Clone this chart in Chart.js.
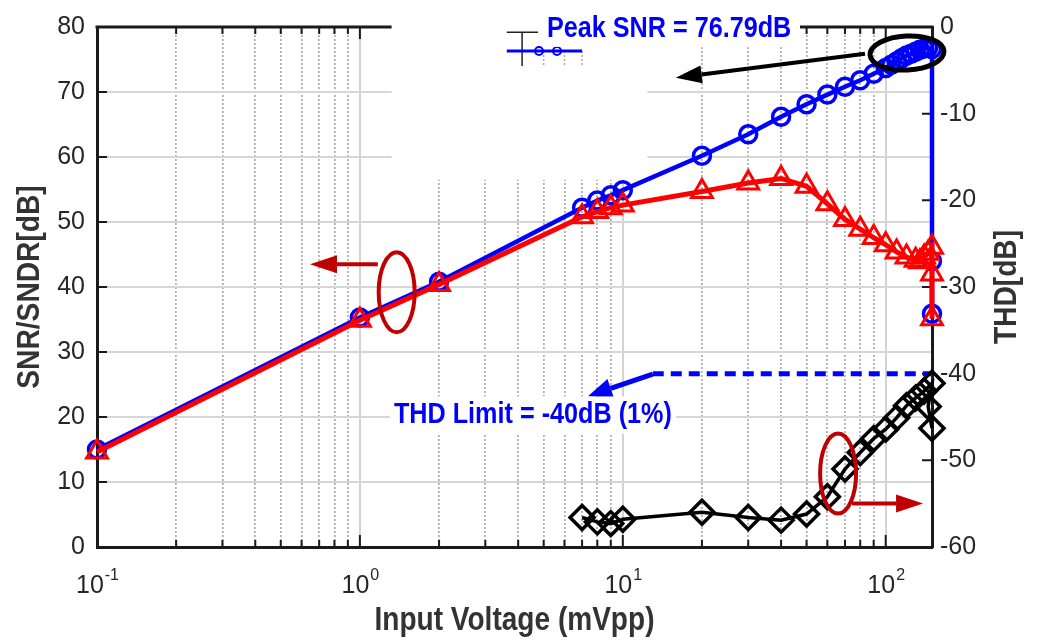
<!DOCTYPE html>
<html>
<head>
<meta charset="utf-8">
<script src="https://cdn.jsdelivr.net/npm/chart.js@4.4.0/dist/chart.umd.min.js"></script>
<style>
  html, body { margin: 0; padding: 0; background: #fff; }
  #wrap { width: 1037px; height: 641px; }
</style>
</head>
<body>
<div id="wrap"><canvas id="snrChart" width="1037" height="641"></canvas></div>
<script>
// Input amplitude (mVpp) and measured values
const snrInput  = [0.1, 1, 2, 7, 8, 9, 10, 20, 30, 40, 50, 60, 70, 80, 90, 100, 105, 110, 115, 120, 125, 130, 135, 140, 145, 150, 150, 150];
const snrValues = [15.0, 35.3, 40.8, 52.2, 53.3, 54.1, 54.9, 60.2, 63.5, 66.2, 68.1, 69.6, 70.8, 71.8, 72.8, 73.7, 74.2, 74.7, 75.2, 75.6, 75.9, 76.2, 76.5, 76.7, 76.79, 76.6, 44.0, 35.9];

const sndrInput  = [0.1, 1, 2, 7, 8, 9, 10, 20, 30, 40, 50, 60, 70, 80, 90, 100, 110, 120, 130, 135, 140, 145, 150, 150, 150];
const sndrValues = [14.6, 34.9, 40.4, 50.8, 51.6, 52.2, 52.6, 54.7, 56.0, 56.7, 55.5, 52.8, 50.4, 48.9, 47.6, 46.5, 45.4, 44.6, 44.1, 43.9, 44.6, 45.2, 46.1, 42.0, 35.1];

const thdInput  = [7, 8, 9, 10, 20, 30, 40, 50, 60, 70, 80, 90, 100, 110, 120, 130, 140, 150, 145, 150];
const thdValues = [-56.6, -57.1, -57.3, -56.8, -56.0, -56.6, -56.9, -56.2, -54.2, -51.0, -49.1, -47.5, -46.4, -45.1, -43.7, -42.8, -42.0, -41.1, -43.8, -46.3];

const thdLimitInput  = [13.0, 150];
const thdLimitValues = [-40, -40];

// axis ticks
const xDecades = [0.1, 1, 10, 100];
const xDecadeExp = ['-1', '0', '1', '2'];
const xMinorSteps = [2, 3, 4, 5, 6, 7, 8, 9];
const xMin = 0.1, xMax = 150;

const axisColor = '#1a1a1a';
const textColor = '#262626';
const titleColor = '#333';
const tickFont = '"Liberation Sans", Arial, sans-serif';
const labelFont = '"Liberation Sans", Arial, sans-serif';

const xTickValues = [];
xDecades.forEach(d => {
  xTickValues.push({ value: d, major: true });
  xMinorSteps.forEach(m => {
    const v = +(d * m).toPrecision(6);
    if (v < xMax) xTickValues.push({ value: v, major: false });
  });
});

const toPoints = (xs, ys) => xs.map((v, i) => ({ x: v, y: ys[i] }));

// annotation anchors, in data units (left axis)
const peakNote = { x: 15.0, y: 79.8, text: 'Peak SNR = 76.79dB' };
const limitNote = { x: 4.55, y: 20.3, text: 'THD Limit = -40dB (1%)' };
const leftMark = { x: 1.38, y: 39.2, arrowFrom: 1.17, arrowTo: 0.646, arrowY: 43.5 };
const rightMark = { x: 65.9, y: 11.3, arrowFrom: 74.5, arrowTo: 138.7, arrowY: 6.7 };
const peakMark = { x: 120.5, y: 76.0, fromX: 83.4, fromY: 75.9, toX: 15.9, toY: 72.2 };
const limitArrow = { fromX: 13.0, fromY: 26.6, toX: 7.37, toY: 23.2 };
const coverBoxes = [
  { x0: 1.32, x1: 12.4, yLow: 56.5 },
  { x0: 12.4, x1: 47.2, yLow: 76.9 }
];
const legendStub = { boxLeft: 3.62, boxRight: 4.76, stem: 4.14, top: 79.2, bottom: 74.0, lineRight: 7.0, lineY: 76.3, markers: [4.8, 5.62] };

function arrow(ctx, x0, y0, x1, y1, color, width, headLen, headHalf) {
  const ang = Math.atan2(y1 - y0, x1 - x0);
  const bx = x1 - Math.cos(ang) * headLen, by = y1 - Math.sin(ang) * headLen;
  ctx.strokeStyle = color; ctx.fillStyle = color; ctx.lineWidth = width;
  ctx.beginPath(); ctx.moveTo(x0, y0); ctx.lineTo(bx, by); ctx.stroke();
  ctx.beginPath();
  ctx.moveTo(x1, y1);
  ctx.lineTo(bx + Math.sin(ang) * headHalf, by - Math.cos(ang) * headHalf);
  ctx.lineTo(bx - Math.sin(ang) * headHalf, by + Math.cos(ang) * headHalf);
  ctx.closePath(); ctx.fill();
}

// narrow bold text (the figure uses a condensed face)
function narrowText(ctx, text, cx, cy, size, squeeze, rot, color, bg) {
  ctx.save();
  ctx.translate(cx, cy);
  if (rot) ctx.rotate(rot);
  ctx.scale(squeeze, 1);
  ctx.font = 'bold ' + size + 'px ' + labelFont;
  ctx.textAlign = 'center'; ctx.textBaseline = 'middle';
  if (bg) {
    const w = ctx.measureText(text).width;
    ctx.fillStyle = bg;
    ctx.fillRect(-w / 2 - 5, -size * 0.62, w + 10, size * 1.24);
  }
  ctx.fillStyle = color;
  ctx.fillText(text, 0, 0);
  ctx.restore();
}

const decorations = {
  id: 'decorations',
  beforeDatasetsDraw(chart) {
    const { ctx, chartArea: a, scales: { x, y, y2 } } = chart;
    ctx.save();
    // top frame
    ctx.strokeStyle = axisColor; ctx.lineWidth = 3;
    ctx.beginPath(); ctx.moveTo(a.left - 1.5, a.top); ctx.lineTo(a.right + 1.5, a.top); ctx.stroke();
    // inward tick marks
    ctx.lineWidth = 2;
    ctx.beginPath();
    x.ticks.forEach(t => {
      const px = x.getPixelForValue(t.value);
      const len = t.major ? 12 : 7;
      ctx.moveTo(px, a.bottom); ctx.lineTo(px, a.bottom - len);
      ctx.moveTo(px, a.top); ctx.lineTo(px, a.top + len);
    });
    y.ticks.forEach(t => {
      const py = y.getPixelForValue(t.value);
      ctx.moveTo(a.left, py); ctx.lineTo(a.left + 10, py);
    });
    y2.ticks.forEach(t => {
      const py = y2.getPixelForValue(t.value);
      ctx.moveTo(a.right, py); ctx.lineTo(a.right - 10, py);
    });
    ctx.stroke();
    // blank areas pasted over the grid in the original figure
    ctx.fillStyle = '#fff';
    coverBoxes.forEach(b => {
      const x0 = x.getPixelForValue(b.x0), x1 = x.getPixelForValue(b.x1);
      const yb = y.getPixelForValue(b.yLow);
      ctx.fillRect(x0, 0, x1 - x0, yb);
    });
    ctx.restore();
  },
  afterDatasetsDraw(chart) {
    const { ctx, chartArea: a, scales: { x, y } } = chart;
    const X = v => x.getPixelForValue(v), Y = v => y.getPixelForValue(v);
    ctx.save();

    // legend fragment
    ctx.strokeStyle = '#222'; ctx.lineWidth = 1.5;
    ctx.beginPath();
    ctx.moveTo(X(legendStub.boxLeft), Y(legendStub.top)); ctx.lineTo(X(legendStub.boxRight), Y(legendStub.top));
    ctx.moveTo(X(legendStub.stem), Y(legendStub.top)); ctx.lineTo(X(legendStub.stem), Y(legendStub.bottom));
    ctx.stroke();
    ctx.strokeStyle = '#aaa'; ctx.setLineDash([2, 2]);
    ctx.beginPath();
    [5, 6, 7].forEach(v => { ctx.moveTo(X(v), Y(legendStub.lineY)); ctx.lineTo(X(v), Y(legendStub.bottom)); });
    ctx.stroke(); ctx.setLineDash([]);
    ctx.strokeStyle = '#0000ff'; ctx.lineWidth = 3;
    ctx.beginPath(); ctx.moveTo(X(legendStub.boxLeft), Y(legendStub.lineY)); ctx.lineTo(X(legendStub.lineRight), Y(legendStub.lineY)); ctx.stroke();
    ctx.lineWidth = 2;
    legendStub.markers.forEach(m => { ctx.beginPath(); ctx.arc(X(m), Y(legendStub.lineY), 4, 0, Math.PI * 2); ctx.stroke(); });

    // ellipses marking which axis a curve belongs to
    ctx.strokeStyle = '#c00000'; ctx.lineWidth = 4;
    [leftMark, rightMark].forEach(m => {
      ctx.beginPath(); ctx.ellipse(X(m.x), Y(m.y), 18, 40, 0, 0, Math.PI * 2); ctx.stroke();
      arrow(ctx, X(m.arrowFrom), Y(m.arrowY), X(m.arrowTo), Y(m.arrowY), '#c00000', 4, 27, 9);
    });

    // peak SNR marker
    ctx.strokeStyle = '#000'; ctx.lineWidth = 5;
    ctx.beginPath(); ctx.ellipse(X(peakMark.x), Y(peakMark.y), 37, 17, -0.05, 0, Math.PI * 2); ctx.stroke();
    arrow(ctx, X(peakMark.fromX), Y(peakMark.fromY), X(peakMark.toX), Y(peakMark.toY), '#000', 4, 26, 9);

    // THD limit arrow
    arrow(ctx, X(limitArrow.fromX), Y(limitArrow.fromY), X(limitArrow.toX), Y(limitArrow.toY), '#0000ff', 5, 24, 10);

    // notes
    [peakNote, limitNote].forEach(n => {
      narrowText(ctx, n.text, X(n.x), Y(n.y), 30, 0.84, 0, '#0000ff', '#fff');
    });

    // x tick labels with exponents
    ctx.fillStyle = textColor; ctx.textBaseline = 'alphabetic'; ctx.textAlign = 'left';
    const base = a.bottom + 46;
    xDecades.forEach((d, i) => {
      ctx.font = '25px ' + tickFont;
      const wb = ctx.measureText('10').width;
      ctx.font = '16px ' + tickFont;
      const we = ctx.measureText(xDecadeExp[i]).width;
      const x0 = X(d) - (wb + we) / 2;
      ctx.font = '25px ' + tickFont;
      ctx.fillText('10', x0, base);
      ctx.font = '16px ' + tickFont;
      ctx.fillText(xDecadeExp[i], x0 + wb + 1, base - 13);
    });

    // axis titles
    const midY = (a.top + a.bottom) / 2;
    narrowText(ctx, 'Input Voltage (mVpp)', (a.left + a.right) / 2, a.bottom + 74, 33, 0.85, 0, titleColor);
    narrowText(ctx, 'SNR/SNDR[dB]', 30, midY, 32, 0.88, -Math.PI / 2, titleColor);
    narrowText(ctx, 'THD[dB]', a.right + 75, midY, 32, 0.88, -Math.PI / 2, titleColor);
    ctx.restore();
  }
};

const minorDash = c => (c.tick && !c.tick.major) ? [2, 2] : [];

new Chart(document.getElementById('snrChart'), {
  type: 'line',
  data: {
    datasets: [
      {
        label: 'SNDR',
        data: toPoints(sndrInput, sndrValues),
        yAxisID: 'y',
        borderColor: '#ff0000',
        borderWidth: 5,
        pointStyle: 'triangle',
        pointRadius: 12,
        pointBorderWidth: 3,
        pointBorderColor: '#ff0000',
        pointBackgroundColor: 'rgba(0,0,0,0)',
        tension: 0,
        clip: false
      },
      {
        label: 'SNR',
        data: toPoints(snrInput, snrValues),
        yAxisID: 'y',
        borderColor: '#0000ff',
        borderWidth: 4.5,
        pointStyle: 'circle',
        pointRadius: 8.5,
        pointBorderWidth: 3.5,
        pointBorderColor: '#0000ff',
        pointBackgroundColor: 'rgba(0,0,0,0)',
        tension: 0,
        clip: false
      },
      {
        label: 'THD',
        data: toPoints(thdInput, thdValues),
        yAxisID: 'y2',
        borderColor: '#000000',
        borderWidth: 3.5,
        pointStyle: 'rectRot',
        pointRadius: 12,
        pointBorderWidth: 3.5,
        pointBorderColor: '#000000',
        pointBackgroundColor: 'rgba(0,0,0,0)',
        tension: 0,
        clip: false
      },
      {
        label: 'THD limit',
        data: toPoints(thdLimitInput, thdLimitValues),
        yAxisID: 'y2',
        borderColor: '#0000ff',
        borderWidth: 5,
        borderDash: [11, 7],
        pointRadius: 0,
        tension: 0
      }
    ]
  },
  options: {
    responsive: false,
    devicePixelRatio: 1,
    animation: false,
    layout: { padding: { top: 23, right: 0, bottom: 0, left: 0 } },
    plugins: { legend: { display: false }, tooltip: { enabled: false } },
    scales: {
      x: {
        type: 'logarithmic',
        position: 'bottom',
        min: xMin,
        max: xMax,
        afterBuildTicks: s => { s.ticks = xTickValues.map(t => ({ value: t.value, major: t.major })); },
        afterFit: s => { s.height = 94; },
        ticks: { display: false },
        grid: {
          color: c => (c.tick && c.tick.major) ? '#d3d3d3' : '#b2b2b2',
          lineWidth: c => (c.tick && c.tick.major) ? 2 : 1.8,
          drawTicks: false
        },
        border: { color: axisColor, width: 3, dash: minorDash }
      },
      y: {
        position: 'left',
        min: 0,
        max: 80,
        afterFit: s => { s.width = 97; },
        ticks: { stepSize: 10, color: textColor, padding: 12, font: { family: tickFont, size: 25 } },
        grid: { color: '#d6d6d6', lineWidth: 2, drawTicks: false },
        border: { color: axisColor, width: 3 }
      },
      y2: {
        position: 'right',
        min: -60,
        max: 0,
        afterFit: s => { s.width = 105; },
        ticks: { stepSize: 10, color: textColor, padding: 8, font: { family: tickFont, size: 25 } },
        grid: { drawOnChartArea: false, drawTicks: false },
        border: { color: axisColor, width: 3 }
      }
    }
  },
  plugins: [decorations]
});
</script>
</body>
</html>
